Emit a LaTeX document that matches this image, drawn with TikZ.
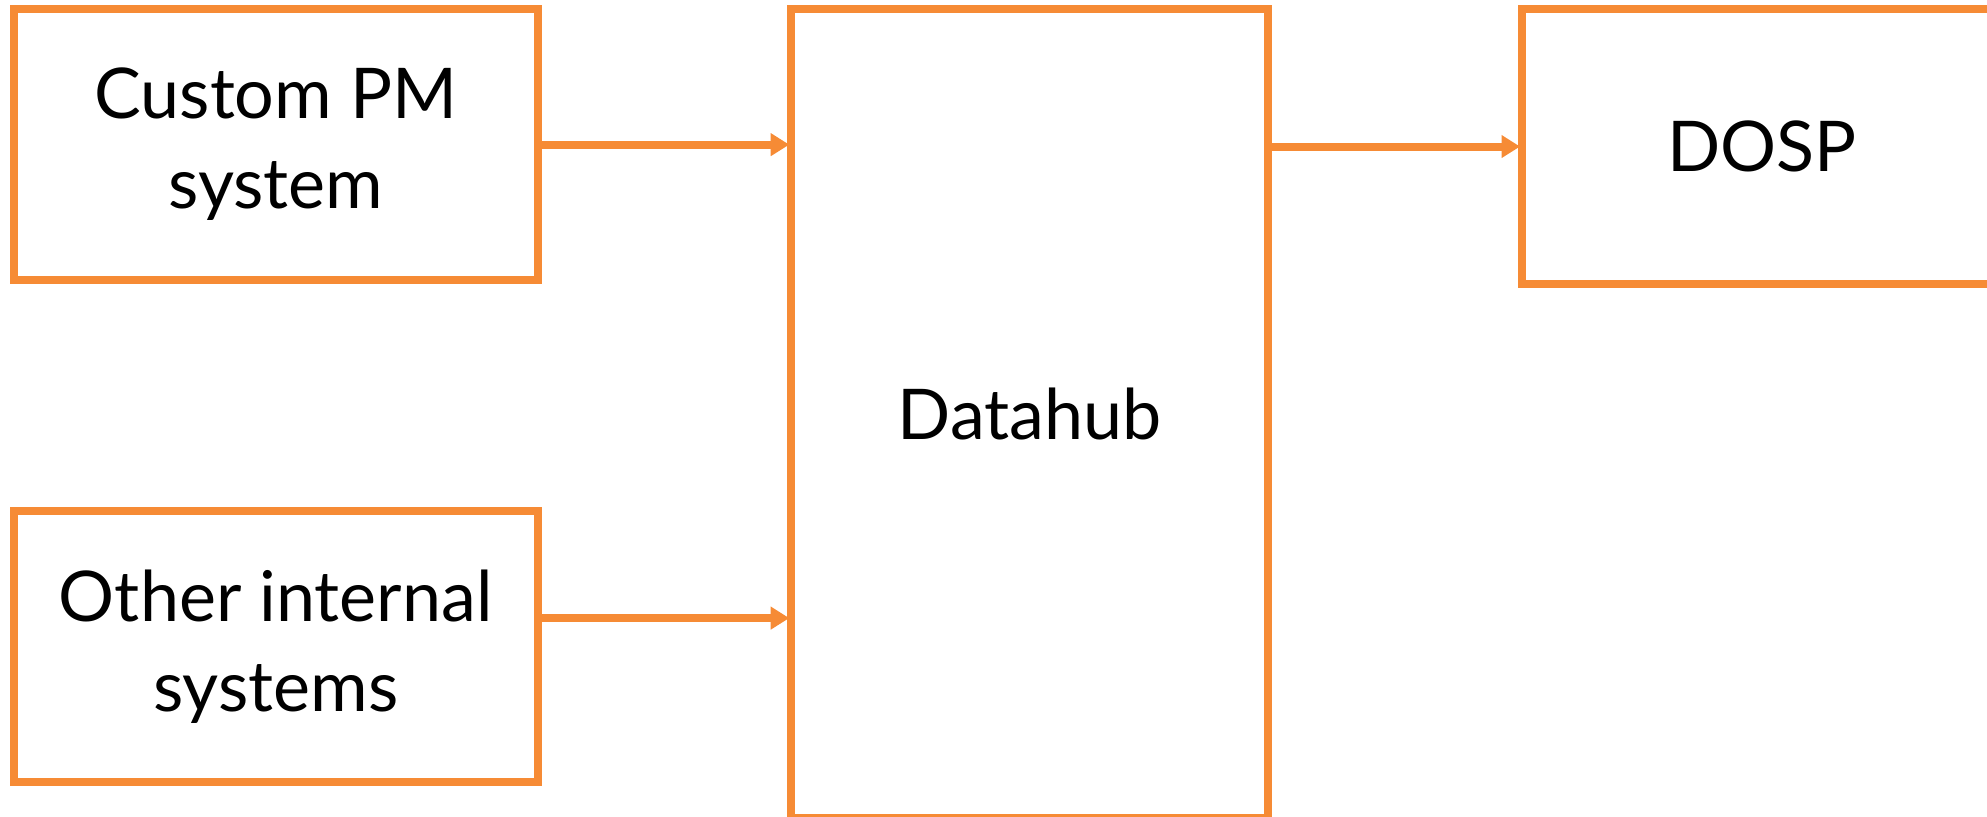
\documentclass[tikz,border=0pt]{standalone}
\usepackage{fontspec}
\setmainfont{Lato}
\usetikzlibrary{positioning, arrows.meta}
\definecolor{boxorange}{HTML}{F68B35}

\begin{document}
\begin{tikzpicture}[
		node distance=115.75pt and 126.9pt,
		box/.style={rectangle, draw=boxorange, line width=4pt, outer sep=0pt, inner sep=0pt,
			align=center, font=\fontsize{35}{45}\selectfont},
		sysbox/.style={box, minimum width=261.75pt, minimum height=135.35pt},
		flow/.style={draw=boxorange, line width=4pt, shorten >=1pt,
			-{Triangle[length=9.3pt, width=10.9pt]}}
		]
		
		% Page frame
		\useasboundingbox (0,0) rectangle (993.5pt,-408.5pt);
		
		% Sources on the left
		\node[sysbox] (pm) at (137.875pt,-72.325pt) {Custom PM\\ system};
		\node[sysbox, below=of pm] (other) {Other internal\\ systems};
		
		% Hub and target
		\node[box, minimum width=238.5pt, minimum height=404.25pt,
			right=of pm.north east, anchor=north west] (hub) {Datahub};
		\node[box, minimum width=240pt, minimum height=137.25pt,
			right=of hub.north east, anchor=north west] (dosp) {DOSP};
		
		% Connectors
		\draw[flow] (pm.east) -- (pm.east -| hub.west);
		\draw[flow] ([yshift=14.375pt]other.east) -- ([yshift=14.375pt]other.east -| hub.west);
		\draw[flow] (dosp.west -| hub.east) -- (dosp.west);
		
	\end{tikzpicture}
\end{document}
